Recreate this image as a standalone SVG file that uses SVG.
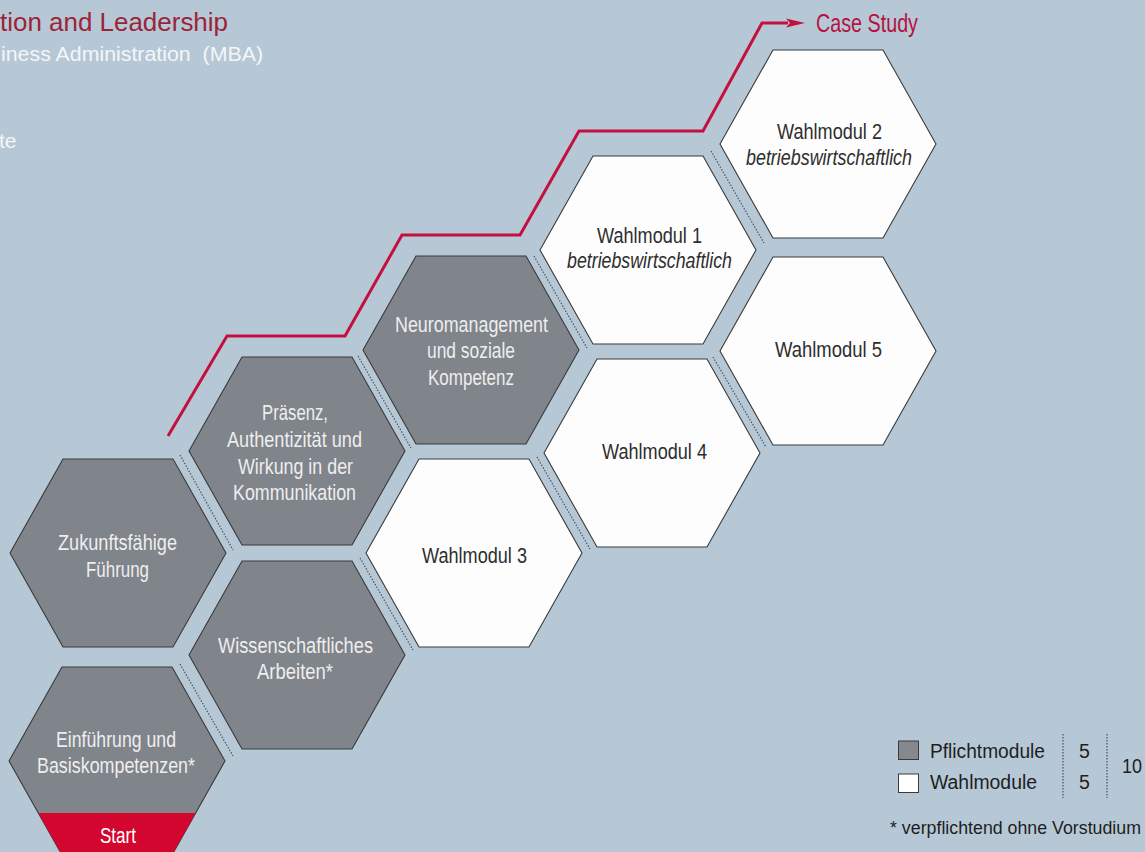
<svg xmlns="http://www.w3.org/2000/svg" width="1145" height="852" viewBox="0 0 1145 852">
<defs>
<style>
.bg{fill:#b6c8d6}
.hex{stroke:#3a3a3a;stroke-width:1.1}
.gray{fill:#80848b}
.white{fill:#fdfdfd}
.lbl{font-family:"Liberation Sans",Arial,sans-serif;font-size:22.5px}
.lt{fill:#eeeeee}
.dk{fill:#2e2e2e}
.it{font-style:italic}
.sep{stroke:#4a4f55;stroke-width:1.2;stroke-dasharray:1.4 1.6;fill:none}
.route{stroke:#c4103f;stroke-width:3;fill:none;stroke-linejoin:miter}
.leg{font-family:"Liberation Sans",Arial,sans-serif;fill:#1e1e1e}
.hdr{font-family:"Liberation Sans",Arial,sans-serif}
</style>
<polygon id="hx" points="-108,0 -55,-94 55,-94 108,0 55,94 -55,94"/>
<marker id="arr" markerUnits="userSpaceOnUse" markerWidth="22" markerHeight="12" refX="2" refY="6" orient="auto">
<path d="M0,1.5 L19,6 L0,10.5 L4,6 Z" fill="#c4103f"/>
</marker>
</defs>
<rect class="bg" x="0" y="0" width="1145" height="852"/>

<g id="header">
<text class="hdr" x="0" y="31" font-size="25" fill="#9c2438" textLength="228" lengthAdjust="spacingAndGlyphs">tion and Leadership</text>
<text class="hdr" x="1" y="61" font-size="21" fill="#f4f6f8" xml:space="preserve" textLength="262" lengthAdjust="spacingAndGlyphs">iness Administration  (MBA)</text>
<text class="hdr" x="-1" y="148" font-size="21" fill="#f4f6f8">te</text>
</g>

<g id="separators">
<line class="sep" x1="180" y1="455" x2="233" y2="550"/>
<line class="sep" x1="180" y1="664" x2="233" y2="756"/>
<line class="sep" x1="358" y1="356" x2="411" y2="448"/>
<line class="sep" x1="360" y1="558" x2="413" y2="650"/>
<line class="sep" x1="534" y1="256" x2="587" y2="348"/>
<line class="sep" x1="537" y1="457" x2="590" y2="549"/>
<line class="sep" x1="711" y1="151" x2="764" y2="243"/>
<line class="sep" x1="713" y1="357" x2="766" y2="447"/>
</g>

<g id="n-zukunft">
<use href="#hx" class="hex gray" x="118" y="553"/>
<text class="lbl lt" x="58" y="549.5" textLength="119" lengthAdjust="spacingAndGlyphs">Zukunftsfähige</text>
<text class="lbl lt" x="86" y="576.5" textLength="63" lengthAdjust="spacingAndGlyphs">Führung</text>
</g>

<g id="n-einfuehrung">
<use href="#hx" class="hex gray" x="117" y="761"/>
<polygon points="38.3,813 195.7,813 172,855 62,855" fill="#d2062f"/>
<text class="lbl lt" x="56" y="747" textLength="120" lengthAdjust="spacingAndGlyphs">Einführung und</text>
<text class="lbl lt" x="37" y="773" textLength="158" lengthAdjust="spacingAndGlyphs">Basiskompetenzen*</text>
<text class="lbl" x="100" y="843" fill="#ffffff" textLength="36" lengthAdjust="spacingAndGlyphs">Start</text>
</g>

<g id="n-praesenz">
<use href="#hx" class="hex gray" x="297" y="451"/>
<text class="lbl lt" x="262" y="420" textLength="66" lengthAdjust="spacingAndGlyphs">Präsenz,</text>
<text class="lbl lt" x="227" y="447" textLength="135" lengthAdjust="spacingAndGlyphs">Authentizität und</text>
<text class="lbl lt" x="238" y="473.5" textLength="115" lengthAdjust="spacingAndGlyphs">Wirkung in der</text>
<text class="lbl lt" x="233" y="500" textLength="123" lengthAdjust="spacingAndGlyphs">Kommunikation</text>
</g>

<g id="n-wissenschaft">
<use href="#hx" class="hex gray" x="297" y="655"/>
<text class="lbl lt" x="218" y="652.5" textLength="155" lengthAdjust="spacingAndGlyphs">Wissenschaftliches</text>
<text class="lbl lt" x="257" y="678.5" textLength="76" lengthAdjust="spacingAndGlyphs">Arbeiten*</text>
</g>

<g id="n-neuro">
<use href="#hx" class="hex gray" x="471" y="350"/>
<text class="lbl lt" x="395" y="331.5" textLength="153" lengthAdjust="spacingAndGlyphs">Neuromanagement</text>
<text class="lbl lt" x="427" y="358" textLength="88" lengthAdjust="spacingAndGlyphs">und soziale</text>
<text class="lbl lt" x="428" y="385" textLength="86" lengthAdjust="spacingAndGlyphs">Kompetenz</text>
</g>

<g id="n-wahl3">
<use href="#hx" class="hex white" x="474" y="553"/>
<text class="lbl dk" x="422" y="562.5" textLength="105" lengthAdjust="spacingAndGlyphs">Wahlmodul 3</text>
</g>

<g id="n-wahl1">
<use href="#hx" class="hex white" x="648" y="250"/>
<text class="lbl dk" x="597" y="242.5" textLength="105" lengthAdjust="spacingAndGlyphs">Wahlmodul 1</text>
<text class="lbl dk it" x="567" y="268" textLength="165" lengthAdjust="spacingAndGlyphs">betriebswirtschaftlich</text>
</g>

<g id="n-wahl4">
<use href="#hx" class="hex white" x="652" y="453"/>
<text class="lbl dk" x="602" y="459" textLength="105" lengthAdjust="spacingAndGlyphs">Wahlmodul 4</text>
</g>

<g id="n-wahl2">
<use href="#hx" class="hex white" x="828" y="144"/>
<text class="lbl dk" x="777" y="139" textLength="105" lengthAdjust="spacingAndGlyphs">Wahlmodul 2</text>
<text class="lbl dk it" x="746" y="165" textLength="166" lengthAdjust="spacingAndGlyphs">betriebswirtschaftlich</text>
</g>

<g id="n-wahl5">
<use href="#hx" class="hex white" x="828" y="351"/>
<text class="lbl dk" x="775" y="356.5" textLength="107" lengthAdjust="spacingAndGlyphs">Wahlmodul 5</text>
</g>

<g id="connectors">
<path class="route" d="M168,436 L227,336 L345,336 L402,235 L520,235 L579,131 L703,131 L762,23 L788,23" marker-end="url(#arr)"/>
<text x="816" y="32" font-family="Liberation Sans,Arial,sans-serif" font-size="25" fill="#b5123f" textLength="102" lengthAdjust="spacingAndGlyphs">Case Study</text>
</g>

<g id="legend">
<rect x="898.5" y="741" width="20" height="18.5" fill="#85888d" stroke="#3a3a3a" stroke-width="1"/>
<rect x="898.5" y="774" width="20" height="18.5" fill="#ffffff" stroke="#3a3a3a" stroke-width="1"/>
<text class="leg" x="930" y="758" style="font-size:19.5px" textLength="115" lengthAdjust="spacingAndGlyphs">Pflichtmodule</text>
<text class="leg" x="930" y="789" style="font-size:19.5px" textLength="107" lengthAdjust="spacingAndGlyphs">Wahlmodule</text>
<text class="leg" x="1079" y="758" style="font-size:19.5px">5</text>
<text class="leg" x="1079" y="789" style="font-size:19.5px">5</text>
<line class="sep" x1="1063" y1="734" x2="1063" y2="798"/>
<line class="sep" x1="1107" y1="734" x2="1107" y2="798"/>
<text class="leg" x="1122" y="773" style="font-size:19.5px" textLength="20" lengthAdjust="spacingAndGlyphs">10</text>
<text class="leg" x="890" y="834" style="font-size:18px" textLength="251" lengthAdjust="spacingAndGlyphs">* verpflichtend ohne Vorstudium</text>
</g>
</svg>
